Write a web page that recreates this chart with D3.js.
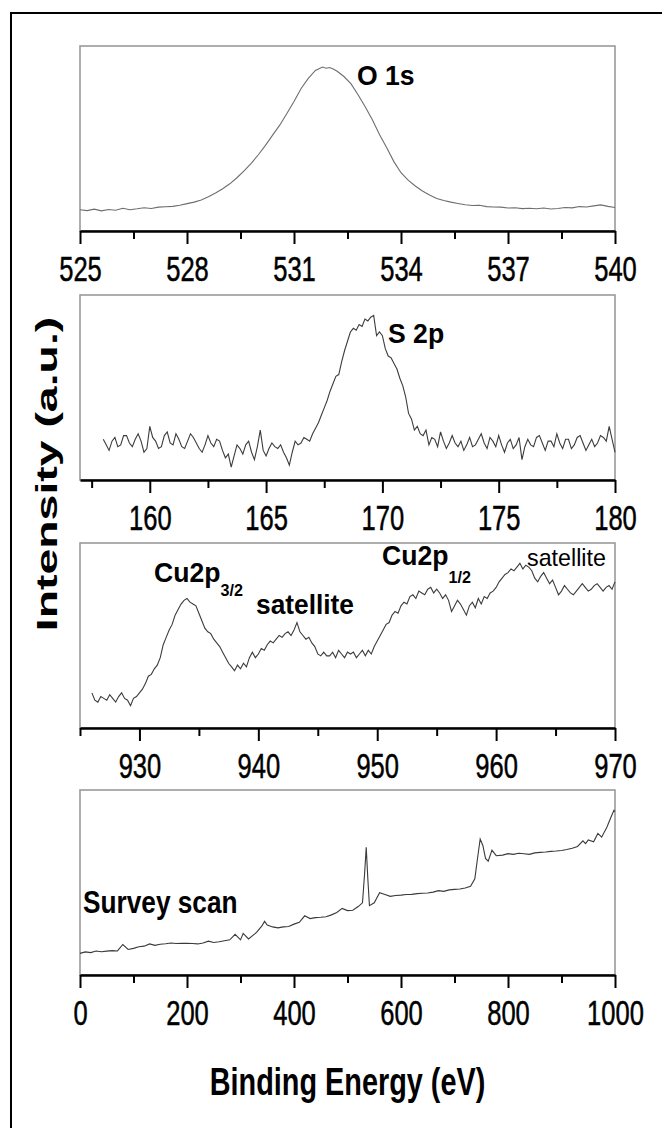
<!DOCTYPE html>
<html>
<head>
<meta charset="utf-8">
<script src="https://cdn.jsdelivr.net/npm/d3@7"></script>
<style>
  html, body { margin: 0; padding: 0; background: #fff; }
  svg { display: block; font-family: "Liberation Sans", Arial, sans-serif; }
</style>
</head>
<body>
<svg id="chart" width="662" height="1128"></svg>
<script>
// O 1s region
const o1sEnergy = [525.0, 525.2, 525.4, 525.6, 525.8, 526.0, 526.2, 526.4, 526.6, 526.8, 527.0, 527.2, 527.4, 527.6, 527.8,
  528.0, 528.2, 528.4, 528.6, 528.8, 529.0, 529.2, 529.4, 529.6, 529.8, 530.0, 530.2, 530.4, 530.6, 530.8,
  531.0, 531.2, 531.4, 531.6, 531.8, 531.9, 532.0, 532.1, 532.2, 532.4, 532.6, 532.8, 533.0, 533.2, 533.4,
  533.6, 533.8, 534.0, 534.2, 534.4, 534.6, 534.8, 535.0, 535.2, 535.4, 535.6, 535.8, 536.0, 536.2, 536.4,
  536.6, 536.8, 537.0, 537.2, 537.4, 537.6, 537.8, 538.0, 538.2, 538.4, 538.6, 538.8, 539.0, 539.2, 539.4,
  539.6, 539.8, 540.0];
const o1sIntensity = [11.5, 11.0, 11.8, 10.9, 11.6, 11.2, 12.3, 11.5, 12.0, 12.6, 12.2, 12.9, 13.1, 13.3, 13.9,
  14.8, 15.6, 16.8, 18.5, 20.5, 22.8, 25.5, 28.8, 32.5, 36.6, 41.2, 46.3, 51.8, 57.2, 63.5,
  70.0, 77.0, 82.5, 86.8, 88.6, 88.0, 88.4, 87.6, 86.5, 83.5, 79.5, 73.5, 67.0, 60.0, 52.0,
  45.0, 37.5, 31.5, 27.5, 24.3, 21.6, 19.5, 17.6, 16.5, 15.6, 14.9, 14.2, 13.8, 13.9, 13.2,
  13.0, 12.9, 12.4, 12.6, 12.1, 12.3, 12.0, 12.4, 11.9, 12.2, 12.7, 12.5, 13.2, 13.0, 13.6,
  14.1, 13.3, 12.7];

// S 2p region, 0.125 eV steps
const s2pEnergy = [
  158.000, 158.125, 158.250, 158.375, 158.500, 158.625, 158.750, 158.875,
  159.000, 159.125, 159.250, 159.375, 159.500, 159.625, 159.750, 159.875,
  160.000, 160.125, 160.250, 160.375, 160.500, 160.625, 160.750, 160.875,
  161.000, 161.125, 161.250, 161.375, 161.500, 161.625, 161.750, 161.875,
  162.000, 162.125, 162.250, 162.375, 162.500, 162.625, 162.750, 162.875,
  163.000, 163.125, 163.250, 163.375, 163.500, 163.625, 163.750, 163.875,
  164.000, 164.125, 164.250, 164.375, 164.500, 164.625, 164.750, 164.875,
  165.000, 165.125, 165.250, 165.375, 165.500, 165.625, 165.750, 165.875,
  166.000, 166.125, 166.250, 166.375, 166.500, 166.625, 166.750, 166.875,
  167.000, 167.125, 167.250, 167.375, 167.500, 167.625, 167.750, 167.875,
  168.000, 168.125, 168.250, 168.375, 168.500, 168.625, 168.750, 168.875,
  169.000, 169.125, 169.250, 169.375, 169.500, 169.625, 169.750, 169.875,
  170.000, 170.125, 170.250, 170.375, 170.500, 170.625, 170.750, 170.875,
  171.000, 171.125, 171.250, 171.375, 171.500, 171.625, 171.750, 171.875,
  172.000, 172.125, 172.250, 172.375, 172.500, 172.625, 172.750, 172.875,
  173.000, 173.125, 173.250, 173.375, 173.500, 173.625, 173.750, 173.875,
  174.000, 174.125, 174.250, 174.375, 174.500, 174.625, 174.750, 174.875,
  175.000, 175.125, 175.250, 175.375, 175.500, 175.625, 175.750, 175.875,
  176.000, 176.125, 176.250, 176.375, 176.500, 176.625, 176.750, 176.875,
  177.000, 177.125, 177.250, 177.375, 177.500, 177.625, 177.750, 177.875,
  178.000, 178.125, 178.250, 178.375, 178.500, 178.625, 178.750, 178.875,
  179.000, 179.125, 179.250, 179.375, 179.500, 179.625, 179.750, 179.875,
  180.000];
const s2pIntensity = [
  22, 19, 16, 21, 23, 18, 19, 24,
  24, 20, 18, 22, 25, 21, 15, 17,
  29, 23, 21, 17, 18, 24, 26, 20,
  19, 25, 22, 18, 17, 21, 25, 23,
  20, 17, 15, 19, 24, 20, 18, 22,
  21, 16, 12, 14, 7, 13, 19, 17,
  14, 19, 21, 15, 11, 18, 27, 16,
  13, 17, 20, 18, 17, 19, 15, 12,
  8, 15, 21, 19, 20, 23, 22, 21,
  25, 28, 31, 35, 39, 43, 48, 52,
  56, 57, 64, 70, 75, 80, 82, 81,
  84, 83, 87, 86, 88, 89, 78, 80,
  78, 71, 67, 66, 63, 60, 55, 51,
  45, 36, 33, 27, 29, 25, 24, 27,
  19, 23, 22, 18, 26, 21, 17, 20,
  24, 20, 18, 21, 16, 19, 23, 18,
  19, 22, 25, 20, 17, 23, 21, 18,
  24, 19, 15, 20, 22, 17, 19, 23,
  11, 18, 22, 19, 18, 23, 24, 20,
  16, 21, 21, 18, 25, 20, 17, 22,
  22, 17, 19, 23, 24, 20, 16, 19,
  22, 18, 20, 24, 23, 21, 29, 22,
  15];

// Cu 2p region, 0.25 eV steps
const cu2pEnergy = [
  926.00, 926.25, 926.50, 926.75, 927.00, 927.25, 927.50, 927.75, 928.00, 928.25, 928.50, 928.75,
  929.00, 929.25, 929.50, 929.75, 930.00, 930.25, 930.50, 930.75, 931.00, 931.25, 931.50, 931.75,
  932.00, 932.25, 932.50, 932.75, 933.00, 933.25, 933.50, 933.75, 934.00, 934.25, 934.50, 934.75,
  935.00, 935.25, 935.50, 935.75, 936.00, 936.25, 936.50, 936.75, 937.00, 937.25, 937.50, 937.75,
  938.00, 938.25, 938.50, 938.75, 939.00, 939.25, 939.50, 939.75, 940.00, 940.25, 940.50, 940.75,
  941.00, 941.25, 941.50, 941.75, 942.00, 942.25, 942.50, 942.75, 943.00, 943.25, 943.50, 943.75,
  944.00, 944.25, 944.50, 944.75, 945.00, 945.25, 945.50, 945.75, 946.00, 946.25, 946.50, 946.75,
  947.00, 947.25, 947.50, 947.75, 948.00, 948.25, 948.50, 948.75, 949.00, 949.25, 949.50, 949.75,
  950.00, 950.25, 950.50, 950.75, 951.00, 951.25, 951.50, 951.75, 952.00, 952.25, 952.50, 952.75,
  953.00, 953.25, 953.50, 953.75, 954.00, 954.25, 954.50, 954.75, 955.00, 955.25, 955.50, 955.75,
  956.00, 956.25, 956.50, 956.75, 957.00, 957.25, 957.50, 957.75, 958.00, 958.25, 958.50, 958.75,
  959.00, 959.25, 959.50, 959.75, 960.00, 960.25, 960.50, 960.75, 961.00, 961.25, 961.50, 961.75,
  962.00, 962.25, 962.50, 962.75, 963.00, 963.25, 963.50, 963.75, 964.00, 964.25, 964.50, 964.75,
  965.00, 965.25, 965.50, 965.75, 966.00, 966.25, 966.50, 966.75, 967.00, 967.25, 967.50, 967.75,
  968.00, 968.25, 968.50, 968.75, 969.00, 969.25, 969.50, 969.75, 970.00];
const cu2pIntensity = [
  19, 15, 14, 17, 16, 15, 18, 16, 14, 17, 19, 16,
  15, 12, 16, 17, 19, 21, 24, 28, 29, 32, 34, 38,
  45, 49, 53, 56, 61, 64, 67, 69, 70, 68, 67, 66,
  62, 58, 54, 52, 51, 48, 46, 44, 41, 38, 35, 33,
  31, 34, 32, 35, 33, 38, 41, 38, 40, 43, 42, 45,
  47, 46, 48, 50, 49, 51, 52, 50, 53, 57, 52, 50,
  48, 49, 46, 44, 40, 39, 41, 39, 39, 41, 38, 42,
  40, 38, 41, 40, 41, 38, 40, 42, 39, 42, 40, 44,
  47, 50, 53, 56, 57, 61, 63, 62, 66, 68, 67, 71,
  72, 70, 74, 73, 72, 75, 76, 73, 75, 73, 70, 72,
  69, 63, 66, 69, 67, 64, 61, 66, 68, 65, 70, 67,
  71, 70, 73, 74, 76, 79, 81, 83, 84, 86, 85, 87,
  89, 86, 88, 87, 85, 81, 79, 82, 84, 81, 78, 80,
  76, 72, 74, 77, 75, 73, 72, 74, 76, 78, 76, 74,
  75, 77, 78, 76, 74, 76, 77, 75, 79];

// survey scan
const surveyEnergy = [0, 10, 20, 30, 40, 50, 60, 70, 80, 90, 100, 110, 120, 130, 140, 150, 160, 170, 180, 190,
  200, 210, 220, 230, 240, 250, 260, 270, 280, 290, 300, 305, 315, 330, 340, 345, 350, 360, 370, 380,
  390, 400, 410, 420, 430, 440, 450, 460, 470, 480, 490, 500, 510, 520, 528, 532, 535, 538, 541, 550,
  560, 570, 580, 590, 600, 610, 620, 630, 640, 650, 660, 670, 680, 690, 700, 710, 720, 730, 738, 743,
  748, 753, 758, 763, 770, 778, 790, 800, 810, 820, 830, 840, 850, 860, 870, 880, 890, 900, 910, 920,
  930, 940, 945, 950, 960, 968, 975, 985, 992, 998, 1000];
const surveyIntensity = [11.7, 12.5, 12.1, 13.0, 12.6, 12.9, 13.2, 13.0, 16.5, 13.8, 14.4, 15.3, 15.6, 16.8, 16.0, 16.6, 16.9, 17.3, 17.0, 17.2,
  17.1, 17.0, 16.8, 17.3, 18.3, 17.6, 18.0, 18.5, 19.0, 22.0, 19.0, 22.5, 19.5, 23.0, 26.5, 29.0, 27.0, 26.0, 25.5, 26.0,
  26.2, 27.5, 28.5, 32.0, 30.5, 31.0, 31.2, 31.5, 32.5, 33.8, 36.0, 34.8, 35.0, 37.0, 39.0, 55.0, 69.0, 52.0, 37.5, 39.0,
  44.5, 43.5, 42.5, 43.0, 43.2, 43.5, 43.6, 44.0, 44.2, 44.3, 44.8, 45.6, 45.2, 46.0, 46.3, 46.5, 47.0, 48.0, 52.0, 63.0,
  73.5, 70.0, 63.0, 61.5, 67.5, 64.5, 64.8, 65.6, 65.2, 65.8, 65.5, 65.2, 66.0, 66.3, 66.5, 66.8, 67.0, 67.3, 67.8, 68.5,
  69.5, 72.5, 71.0, 73.0, 72.0, 76.5, 74.5, 80.0, 85.0, 89.0, 88.3];

// axis ticks
const o1sTicks = [525, 528, 531, 534, 537, 540];
const o1sMinor = [526.5, 529.5, 532.5, 535.5, 538.5];
const s2pTicks = [160, 165, 170, 175, 180];
const s2pMinor = [157.5, 162.5, 167.5, 172.5, 177.5];
const cu2pTicks = [930, 940, 950, 960, 970];
const cu2pMinor = [925, 935, 945, 955, 965];
const surveyTicks = [0, 200, 400, 600, 800, 1000];
const surveyMinor = [100, 300, 500, 700, 900];

const X_LEFT = 80;
const X_RIGHT = 615;
const PANEL_H = 185;

const panels = [
  {top: 46, domain: [525, 540], ticks: o1sTicks, minor: o1sMinor, energy: o1sEnergy, intensity: o1sIntensity, color: "#6e6e6e"},
  {top: 295, domain: [157, 180], ticks: s2pTicks, minor: s2pMinor, energy: s2pEnergy, intensity: s2pIntensity, color: "#3c3c3c"},
  {top: 543, domain: [925, 970], ticks: cu2pTicks, minor: cu2pMinor, energy: cu2pEnergy, intensity: cu2pIntensity, color: "#3c3c3c"},
  {top: 790, domain: [0, 1000], ticks: surveyTicks, minor: surveyMinor, energy: surveyEnergy, intensity: surveyIntensity, color: "#3a3a3a"}
];

const svg = d3.select("#chart");

// outer frame (left and top only, like the cropped original)
svg.append("path")
  .attr("d", "M11,1128 V13 H662")
  .attr("fill", "none")
  .attr("stroke", "#000")
  .attr("stroke-width", 2);

function addText(g, str, x, y, size, weight, sx, anchor) {
  return g.append("text")
    .attr("transform", `translate(${x},${y}) scale(${sx},1)`)
    .attr("font-size", size)
    .attr("font-weight", weight)
    .attr("text-anchor", anchor || "start")
    .attr("fill", "#000")
    .text(str);
}

panels.forEach(p => {
  const bottom = p.top + PANEL_H;
  const x = d3.scaleLinear().domain(p.domain).range([X_LEFT, X_RIGHT]);
  const y = d3.scaleLinear().domain([0, 100]).range([bottom, p.top]);
  const g = svg.append("g");

  g.append("rect")
    .attr("x", X_LEFT)
    .attr("y", p.top)
    .attr("width", X_RIGHT - X_LEFT)
    .attr("height", PANEL_H)
    .attr("fill", "none")
    .attr("stroke", "#9a9a9a")
    .attr("stroke-width", 1.6);

  const line = d3.line()
    .x((d, i) => x(p.energy[i]))
    .y(d => y(d));

  g.append("path")
    .datum(p.intensity)
    .attr("d", line)
    .attr("fill", "none")
    .attr("stroke", p.color)
    .attr("stroke-width", 1.1);

  // minor ticks
  g.append("g")
    .attr("transform", `translate(0,${bottom})`)
    .call(d3.axisBottom(x).tickValues(p.minor).tickSize(8).tickSizeOuter(0).tickFormat(""))
    .call(a => a.select(".domain").remove())
    .call(a => a.selectAll("line").attr("stroke", "#000").attr("stroke-width", 2));

  // major ticks + labels
  const ax = g.append("g")
    .attr("transform", `translate(0,${bottom})`)
    .call(d3.axisBottom(x).tickValues(p.ticks).tickSize(13).tickSizeOuter(0).tickFormat(d3.format("d")));
  ax.select(".domain").attr("stroke", "#000").attr("stroke-width", 2.6);
  ax.selectAll("line").attr("stroke", "#000").attr("stroke-width", 2);
  ax.selectAll("text")
    .attr("y", 0).attr("dy", 0)
    .attr("transform", "translate(0,50) scale(0.73,1)")
    .attr("font-size", 35)
    .attr("font-family", "'Liberation Sans', Arial, sans-serif")
    .attr("fill", "#000")
    .attr("stroke", "#000")
    .attr("stroke-width", 0.5);
});

// peak annotations
addText(svg, "O 1s", 357, 85, 28, "bold", 0.95);
addText(svg, "S 2p", 388, 343, 28, "bold", 0.95);

const cu32 = addText(svg, "Cu2p", 154, 582, 28, "bold", 0.95);
cu32.append("tspan").attr("font-size", 17).attr("dy", 14).text("3/2");
addText(svg, "satellite", 256, 614, 28, "bold", 0.94);

const cu12 = addText(svg, "Cu2p", 382, 565, 28, "bold", 0.95);
cu12.append("tspan").attr("font-size", 17).attr("dy", 18).text("1/2");
addText(svg, "satellite", 527, 566, 24, "normal", 0.97);

addText(svg, "Survey scan", 83, 913, 32, "bold", 0.82);

// axis titles
addText(svg, "Binding Energy (eV)", 347.5, 1095, 39.5, "bold", 0.73, "middle");

svg.append("text")
  .attr("transform", "translate(57,474) rotate(-90) scale(1.6,1)")
  .attr("font-size", 29)
  .attr("font-weight", "bold")
  .attr("text-anchor", "middle")
  .text("Intensity (a.u.)");
</script>
</body>
</html>
